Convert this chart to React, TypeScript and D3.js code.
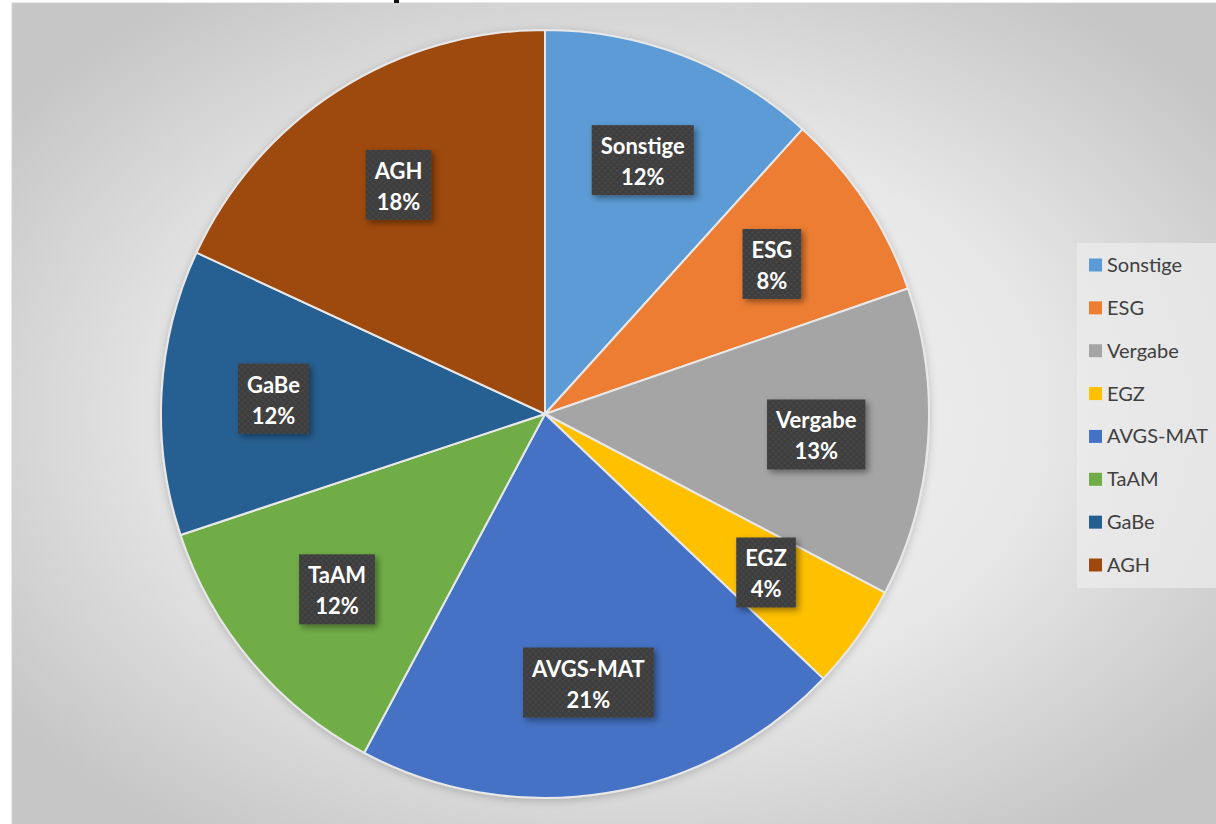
import React, { useEffect, useRef } from "react";
import * as d3 from "d3";

const categories = ["Sonstige", "ESG", "Vergabe", "EGZ", "AVGS-MAT", "TaAM", "GaBe", "AGH"];
const values = [11.7, 8.0, 13.0, 4.4, 20.7, 12.1, 12.0, 18.1];
const colors = ["#5b9bd5", "#ed7d31", "#a5a5a5", "#ffc000", "#4472c4", "#70ad47", "#255e91", "#9e480e"];

const W = 1216;
const H = 824;

export default function App() {
  const ref = useRef<SVGSVGElement | null>(null);

  useEffect(() => {
    const svg = d3.select(ref.current);
    svg.selectAll("*").remove();
    const defs = svg.append("defs");

    const bg = defs.append("radialGradient").attr("id", "bg")
      .attr("cx", "50%").attr("cy", "50%").attr("r", "62%");
    bg.append("stop").attr("offset", "0%").attr("stop-color", "#f2f2f2");
    bg.append("stop").attr("offset", "55%").attr("stop-color", "#e8e8e8");
    bg.append("stop").attr("offset", "100%").attr("stop-color", "#c6c6c6");

    const pat = defs.append("pattern").attr("id", "dots").attr("patternUnits", "userSpaceOnUse")
      .attr("width", 6).attr("height", 6);
    pat.append("rect").attr("width", 6).attr("height", 6).attr("fill", "#3e3e3e");
    pat.append("circle").attr("cx", 1.5).attr("cy", 1.5).attr("r", 1.1).attr("fill", "#4c4c4c");
    pat.append("circle").attr("cx", 4.5).attr("cy", 4.5).attr("r", 1.1).attr("fill", "#4c4c4c");

    const sh = defs.append("filter").attr("id", "shadow").attr("x", "-20%").attr("y", "-20%")
      .attr("width", "150%").attr("height", "150%");
    sh.append("feDropShadow").attr("dx", 3).attr("dy", 3).attr("stdDeviation", 3)
      .attr("flood-color", "#000").attr("flood-opacity", 0.4);

    const psh = defs.append("filter").attr("id", "pshadow").attr("x", "-10%").attr("y", "-10%")
      .attr("width", "120%").attr("height", "120%");
    psh.append("feDropShadow").attr("dx", 0).attr("dy", 2).attr("stdDeviation", 4)
      .attr("flood-color", "#000").attr("flood-opacity", 0.2);

    // page background
    svg.append("rect").attr("x", 0).attr("y", 0).attr("width", W).attr("height", H).attr("fill", "#ffffff");
    svg.append("rect").attr("x", 12).attr("y", 3).attr("width", W).attr("height", H)
      .attr("fill", "url(#bg)").attr("stroke", "#d4d4d4").attr("stroke-width", 1);
    // cut-off title descender
    svg.append("rect").attr("x", 394).attr("y", 0).attr("width", 5).attr("height", 3).attr("fill", "#111");

    const cx = 545, cy = 414, R = 384;
    const pie = d3.pie<number>().sort(null).value((d) => d);
    const arcs = pie(values);
    const arc = d3.arc<d3.PieArcDatum<number>>().innerRadius(0).outerRadius(R);
    const labelArc = d3.arc<d3.PieArcDatum<number>>().innerRadius(272).outerRadius(272);

    const g = svg.append("g").attr("transform", `translate(${cx},${cy})`);
    g.append("g").attr("filter", "url(#pshadow)")
      .selectAll("path").data(arcs).enter().append("path")
      .attr("d", arc as any)
      .attr("fill", (_d, i) => colors[i])
      .attr("stroke", "#e8e8e8").attr("stroke-width", 2).attr("stroke-linejoin", "round");

    const total = d3.sum(values);
    const fmt = (v: number) => `${Math.round((v / total) * 100)}%`;
    const font = "Lato, 'Open Sans', sans-serif";

    arcs.forEach((a, i) => {
      const [lx, ly] = labelArc.centroid(a);
      const lg = g.append("g").attr("transform", `translate(${lx},${ly})`);
      const box = lg.append("rect").attr("fill", "url(#dots)").attr("filter", "url(#shadow)");
      const t1 = lg.append("text").attr("x", 0).attr("y", -6).attr("text-anchor", "middle")
        .attr("font-family", font).attr("font-weight", 700)
        .attr("font-size", 22).attr("fill", "#ffffff").text(categories[i]);
      const t2 = lg.append("text").attr("x", 0).attr("y", 25).attr("text-anchor", "middle")
        .attr("font-family", font).attr("font-weight", 700)
        .attr("font-size", 22).attr("fill", "#ffffff").text(fmt(values[i]));
      const w1 = (t1.node() as SVGTextElement).getComputedTextLength();
      const w2 = (t2.node() as SVGTextElement).getComputedTextLength();
      const bw = Math.max(w1, w2) + 18;
      box.attr("x", -bw / 2).attr("y", -35).attr("width", bw).attr("height", 70);
    });

    // legend
    const lgX = 1077, lgY = 243;
    svg.append("rect").attr("x", lgX).attr("y", lgY).attr("width", W - lgX + 5).attr("height", 345)
      .attr("fill", "#ececec").attr("fill-opacity", 0.7);
    const rowY = d3.scaleLinear().domain([0, categories.length - 1]).range([265, 565]);
    categories.forEach((c, i) => {
      const y = rowY(i);
      svg.append("rect").attr("x", 1089).attr("y", y - 6.5).attr("width", 13).attr("height", 13).attr("fill", colors[i]);
      svg.append("text").attr("x", 1107).attr("y", y + 7).attr("font-family", font)
        .attr("font-size", 20).attr("fill", "#404040").text(c);
    });
  }, []);

  return (
    <svg ref={ref} width={W} height={H} style={{ position: "fixed", left: 0, top: 0, display: "block" }} />
  );
}
